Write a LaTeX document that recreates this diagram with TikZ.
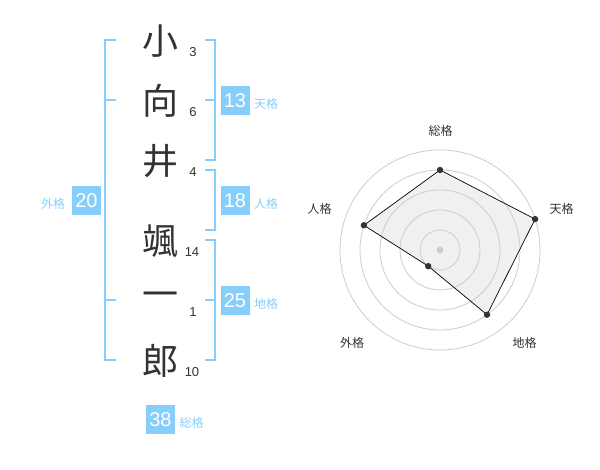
\documentclass[tikz,border=0pt]{standalone}
\usepackage{fontspec}
\setmainfont{Liberation Sans}
\newfontfamily\jp{Noto Sans CJK JP}
\usepackage{xcolor}
\usepackage{tikz}
\definecolor{kakublue}{RGB}{135, 206, 250}
\definecolor{inkgray}{RGB}{51, 51, 51}
\definecolor{ringgray}{RGB}{204, 204, 204}
\definecolor{areagray}{RGB}{240, 240, 240}

\begin{document}
\begin{tikzpicture}[x=1pt,y=-1pt,
    kanji/.style={inkgray,font=\jp\fontsize{36}{36}\selectfont,inner sep=0pt},
    strokes/.style={inkgray,font=\fontsize{13}{13}\selectfont,inner sep=0pt},
    kakubox/.style={fill=kakublue,text=white,minimum size=29pt,inner sep=0pt,font=\fontsize{20}{20}\selectfont},
    kakuname/.style={kakublue,font=\jp\fontsize{12}{12}\selectfont,inner sep=0pt},
    bracket/.style={kakublue,line width=1.6pt},
    axisname/.style={inkgray,font=\jp\fontsize{12}{12}\selectfont,inner sep=0pt}]

            \useasboundingbox (0,0) rectangle (600,470);

            % Name
            \node[kanji] (c1) at (160,41) {小};
            \node[kanji] (c2) at (160,101) {向};
            \node[kanji] (c3) at (160,161) {井};
            \node[kanji] (c4) at (160,241) {颯};
            \node[kanji] (c5) at (160,300) {一};
            \node[kanji] (c6) at (160,361) {郎};

            % Strokes
            \node[strokes] (n1) at (193,52) {3};
            \node[strokes] (n2) at (193,112) {6};
            \node[strokes] (n3) at (193,172) {4};
            \node[strokes] (n4) at (192,252) {14};
            \node[strokes] (n5) at (193,312) {1};
            \node[strokes] (n6) at (192,372) {10};

            % Gaikaku
            \draw[bracket] (116,40) -- (105,40) -- (105,360) -- (116,360);
            \draw[bracket] (105,100) -- (116,100);
            \draw[bracket] (105,300) -- (116,300);
            \node[kakubox] (gaibox) at (86.5,200.5) {20};
            \node[kakuname] (gainame) at (53,204) {外格};

            % Tenkaku
            \draw[bracket] (205,40) -- (215,40) -- (215,160) -- (205,160);
            \draw[bracket] (205,100) -- (215,100);
            \node[kakubox] (tenbox) at (235,100.5) {13};
            \node[kakuname] (tenname) at (266,104) {天格};

            % Jinkaku
            \draw[bracket] (205,170) -- (215,170) -- (215,230) -- (205,230);
            \node[kakubox] (jinbox) at (235,200.5) {18};
            \node[kakuname] (jinname) at (266,204) {人格};

            % Chikaku
            \draw[bracket] (205,240) -- (215,240) -- (215,360) -- (205,360);
            \draw[bracket] (205,300) -- (215,300);
            \node[kakubox] (chibox) at (235,300.5) {25};
            \node[kakuname] (chiname) at (266,304) {地格};

            % Soukaku
            \node[kakubox] (soubox) at (160.5,419.5) {38};
            \node[kakuname] (souname) at (191.5,423) {総格};

            % Radar chart
            \begin{scope}[shift={(440,250)},y=1pt]
                \coordinate (ctr) at (0,0);
                \coordinate (ptsou) at (90:80);
                \coordinate (ptten) at (18:100);
                \coordinate (ptchi) at (-54:80);
                \coordinate (ptgai) at (-126:20);
                \coordinate (ptjin) at (162:80);
                \fill[areagray] (ptsou) -- (ptten) -- (ptchi) -- (ptgai) -- (ptjin) -- cycle;
                \foreach \r in {20,40,60,80,100}
                    \draw[ringgray,line width=0.8pt] (ctr) circle[radius=\r pt];
                \fill[ringgray] (ctr) circle[radius=3.5pt];
                \draw[black,line width=0.7pt] (ptsou) -- (ptten) -- (ptchi) -- (ptgai) -- (ptjin) -- cycle;
                \foreach \p in {ptsou,ptten,ptchi,ptgai,ptjin}
                    \fill[inkgray] (\p) circle[radius=3.2pt];
            \end{scope}

            \node[axisname] (lsou) at (440.5,130.5) {総格};
            \node[axisname] (lten) at (561.5,208.5) {天格};
            \node[axisname] (ljin) at (319.5,208.5) {人格};
            \node[axisname] (lgai) at (352,342.5) {外格};
            \node[axisname] (lchi) at (524.5,342.5) {地格};

        \end{tikzpicture}
\end{document}
